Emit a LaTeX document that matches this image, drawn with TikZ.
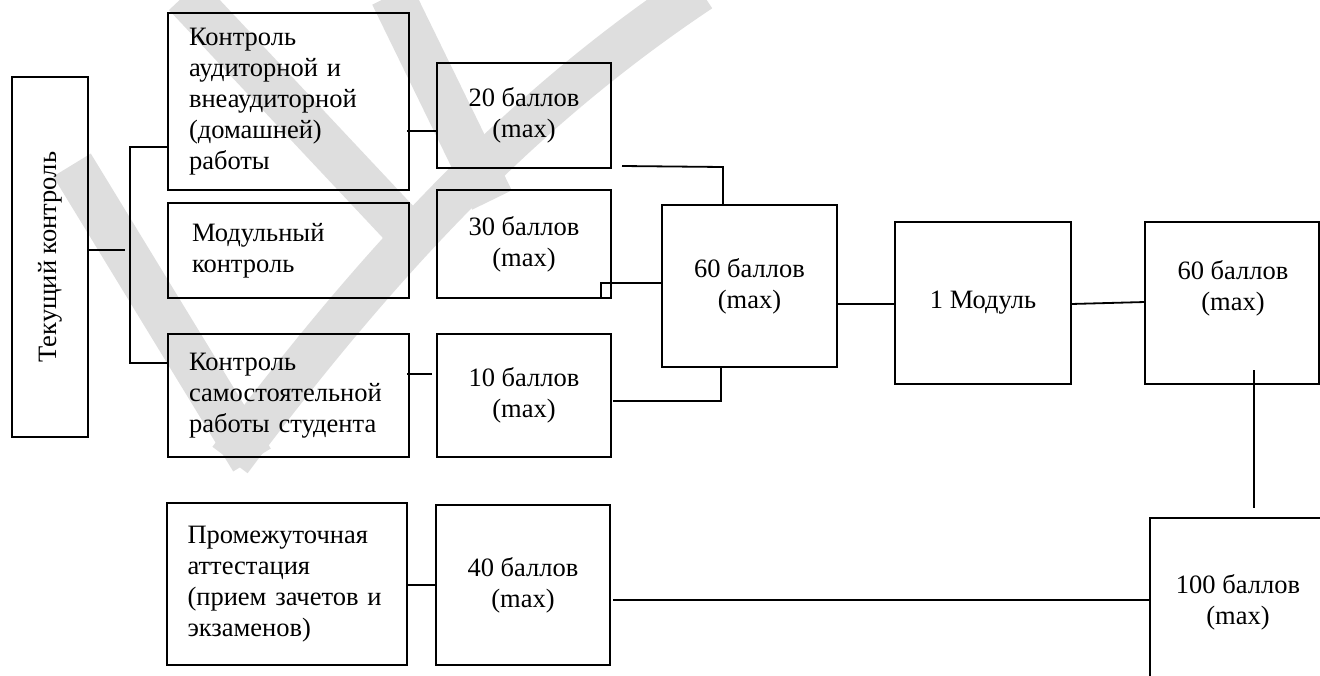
\documentclass[tikz,border=0pt]{standalone}
\usepackage{fontspec}
\setmainfont{Liberation Serif}
\begin{document}
\begin{tikzpicture}[x=1pt,y=-1pt,
  box/.style={draw, line width=2.4pt, inner sep=0pt, outer sep=0pt, font=\fontsize{26.5}{31}\selectfont},
  lbox/.style={box, align=left, text width=199pt},
  cbox/.style={box, align=center},
  conn/.style={line width=1.8pt},
  txt/.style={inner sep=0pt, align=center, font=\fontsize{26.5}{31}\selectfont},
  wm/.style={line width=44pt, draw=black!13}]
\useasboundingbox (0,0) rectangle (1320,675);
\clip (0,0) rectangle (1320,675);
% watermark
\draw[wm] (72,165) -- (252,460);
\draw[wm] (185,-5) -- (415,240);
\draw[wm] (392,-5) -- (492,200);
\draw[wm] (700,-10) .. controls (520,110) and (380,260) .. (230,460);
% boxes
\node[box, rotate=90, minimum width=360pt, minimum height=76pt] (tk) at (50,257) {Текущий контроль};
\node[lbox, minimum width=241pt, minimum height=177pt] (b1) at (288.5,101.5) {Контроль\\аудиторной и\\внеаудиторной\\(домашней)\\работы};
\node[lbox, minimum width=241pt, minimum height=95pt] (b2) at (288.5,250.5) {\hspace*{3pt}Модульный\\\hspace*{3pt}контроль};
\node[lbox, minimum width=241pt, minimum height=123pt] (b3) at (288.5,395.5) {Контроль\\самостоятельной\\работы студента};
\node[cbox, minimum width=174pt, minimum height=105pt] (p20) at (524,115.5) {20 баллов\\(max)};
\node[cbox, minimum width=174pt, minimum height=108pt] (p30) at (524,244) {30 баллов\\(max)};
\node[cbox, minimum width=174pt, minimum height=123pt] (p10) at (524,395.5) {10 баллов\\(max)};
\node[cbox, minimum width=175pt, minimum height=162pt] (s60) at (749.5,286) {60 баллов\\(max)};
\node[cbox, minimum width=176pt, minimum height=162pt] (mod) at (983,303) {1 Модуль};
\node[box, minimum width=174pt, minimum height=162pt] (r60) at (1232,303) {};
\node[txt] (r60t) at (1233,288) {60 баллов\\(max)};
\node[lbox, minimum width=240pt, minimum height=162pt] (pa) at (287,584) {Промежуточная\\аттестация\\(прием зачетов и\\экзаменов)};
\node[cbox, minimum width=174pt, minimum height=160pt] (p40) at (523,585) {40 баллов\\(max)};
\node[box, minimum width=175pt, minimum height=182pt] (h100) at (1237.5,609) {};
\node[txt] (h100t) at (1238,602) {100 баллов\\(max)};
% free ends
\coordinate (stub) at (125,250);
\coordinate (busT) at (130,147);
\coordinate (busB) at (130,363);
\coordinate (c20a) at (622,166);
\coordinate (c20b) at (723,167);
\coordinate (c30a) at (601,283);
\coordinate (c10a) at (613,401);
\coordinate (c10b) at (721,401);
% connectors
\draw[conn] (tk.south |- stub) -- (stub);
\draw[conn] (b1.west |- busT) -- (busT) -- (busB) -- (b3.west |- busB);
\draw[conn] (407,131) -- (p20.west |- 0,131);
\draw[conn] (407,374) -- (432,374);
\draw[conn] (c20a) -- (c20b) -- (c20b |- s60.north);
\draw[conn] (c30a |- p30.south) -- (c30a) -- (s60.west |- c30a);
\draw[conn] (c10a) -- (c10b) -- (c10b |- s60.south);
\draw[conn] (s60.east |- 0,304) -- (mod.west |- 0,304);
\draw[conn] (mod.east |- 0,304) -- (r60.west |- 0,302);
\draw[conn] (1254,370) -- (1254,508);
\draw[conn] (pa.east |- 0,585) -- (p40.west |- 0,585);
\draw[conn] (613,600) -- (h100.west |- 0,600);
\end{tikzpicture}
\end{document}
